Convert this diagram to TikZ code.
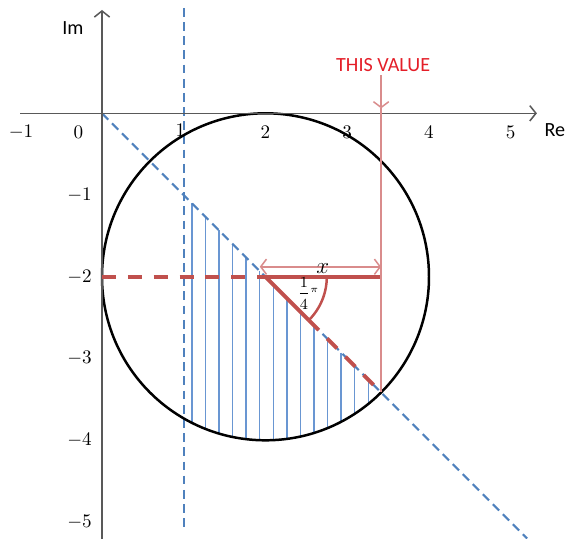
\documentclass[tikz,border=0pt]{standalone}
\usepackage{fontspec}
\newfontfamily\calibri{Carlito}
\usetikzlibrary{arrows.meta}
\definecolor{axisgray}{RGB}{89,89,89}
\definecolor{dblue}{RGB}{79,129,189}
\definecolor{hblue}{RGB}{105,150,210}
\definecolor{dred}{RGB}{192,80,77}
\definecolor{lred}{RGB}{217,140,140}
\definecolor{tred}{RGB}{228,30,40}
\tikzset{
  axisline/.style={draw=axisgray, line width=0.8pt, -{Straight Barb[length=3.2pt,width=8pt]}},
  bluedash/.style={draw=dblue, line width=1.1pt, dash pattern=on 4.6pt off 2.8pt},
  hatchline/.style={draw=hblue, line width=0.75pt},
  circ/.style={draw=black, line width=1.3pt},
  redthick/.style={draw=dred, line width=2pt},
  reddash/.style={draw=dred, line width=2pt, dash pattern=on 7.3pt off 6.2pt},
  redthin/.style={draw=lred, line width=0.8pt},
  redarrow/.style={redthin, -{Straight Barb[length=3pt,width=8pt]}},
  redboth/.style={redthin, {Straight Barb[length=3pt,width=8pt]}-{Straight Barb[length=3pt,width=8pt]}},
  ticklab/.style={font=\fontsize{10}{12}\selectfont, inner sep=0pt},
  axlab/.style={font=\calibri\fontsize{10.5}{12}\selectfont, inner sep=0pt}
}
\begin{document}
\begin{tikzpicture}[x=1.5cm,y=1.5cm]
\useasboundingbox (-1.2477,-5.207) rectangle (5.676,1.386);
% named points
\coordinate (O) at (0,0);
\coordinate (C) at (2,-2);
\coordinate (P) at ({2+sqrt(2)},{-2-sqrt(2)});
\coordinate (Q) at ({2+sqrt(2)},-2);
\coordinate (L) at (0,-2);
\coordinate (A) at ({2+0.75*cos(45)},{-2-0.75*sin(45)});
\coordinate (B) at (2.75,-2);
\coordinate (Dend) at (5.2,-5.2);
\coordinate (Vtop) at (1,1.289);
\coordinate (Vbot) at (1,-5.1);
\coordinate (Xl) at (-1.0,0);
\coordinate (Xr) at (5.32,0);
\coordinate (Yb) at (0,-5.3);
\coordinate (Yt) at (0,1.264);
\coordinate (Rtop) at ({2+sqrt(2)},0.468);
\coordinate (Rtip) at ({2+sqrt(2)},0.06);
\coordinate (Al) at (1.93,-1.877);
\coordinate (Ar) at ({2+sqrt(2)},-1.877);
% hatching
\foreach \k in {0,...,13}{
  \pgfmathsetmacro\xx{1.10+0.166*\k}
  \pgfmathsetmacro\yy{-2-sqrt(4-(\xx-2)^2)}
  \draw[hatchline] (\xx,-\xx) -- (\xx,\yy);
}
% blue dashed lines
\draw[bluedash] (O) -- (Dend);
\draw[bluedash] (Vtop) -- (Vbot);
% circle
\draw[circ] (C) circle (2);
% axes
\draw[axisline] (Xl) -- (Xr);
\draw[axisline] (Yb) -- (Yt);
% red construction
\draw[reddash] (L) -- (C);
\draw[redthick] (C) -- (Q);
\draw[redthick] (C) -- (A);
\draw[redthick, line width=1.3pt] (A) arc (-45:0:0.75);
\draw[reddash] (A) -- (P);
\draw[redarrow] (Rtop) -- (Rtip);
\draw[redthin] (Rtip) -- (P);
\draw[redboth] (Al) -- (Ar);
% labels
\node[font=\fontsize{12}{14}\selectfont, inner sep=0pt] (xl) at (2.70,-1.90) {$x$};
\node[inner sep=0pt] (ang) at (2.52,-2.20) {\fontsize{8.5}{10}\selectfont$\displaystyle\frac{1}{4}$\raisebox{0.7ex}{\fontsize{5.5}{6}\selectfont$\pi$}};
\node[axlab, text=tred] (tv) at (3.44,0.59) {THIS VALUE};
\node[axlab] (im) at (-0.355,1.04) {Im};
\node[axlab] (re) at (5.54,-0.205) {Re};
\node[ticklab] (xm1) at (-0.99,-0.23) {$-1$};
\node[ticklab] (x0) at (-0.29,-0.23) {$0$};
\node[ticklab] (x1) at (0.96,-0.21) {$1$};
\foreach \n in {2,...,5}{
  \node[ticklab] (x\n) at (\n,-0.23) {$\n$};
}
\foreach \n in {1,...,5}{
  \node[ticklab, anchor=east] (y\n) at (-0.12,-\n) {$-\n$};
}
\end{tikzpicture}
\end{document}
